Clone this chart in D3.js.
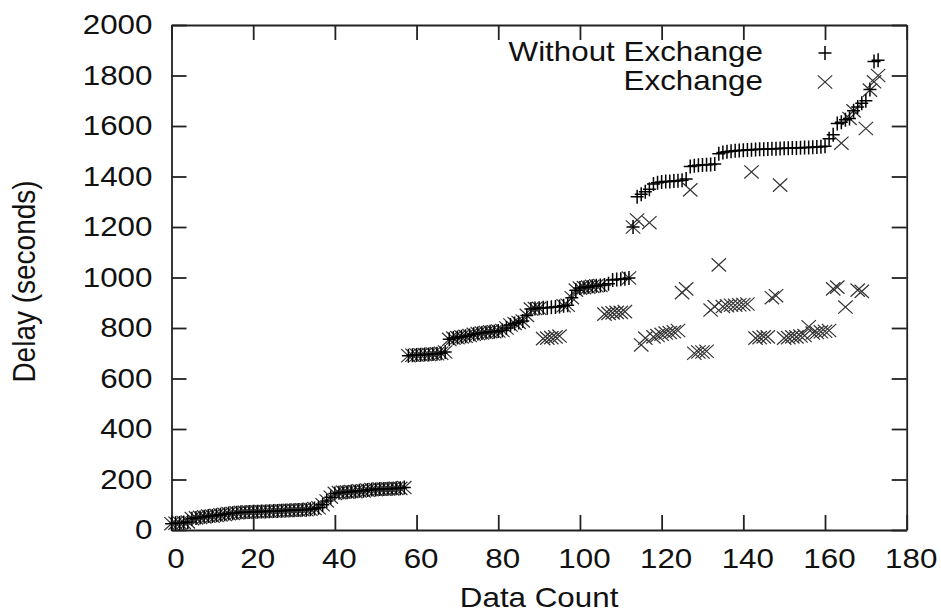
<!DOCTYPE html>
<html lang="en">
<head>
<meta charset="UTF-8"/>
<title>delay</title>
<script src="https://d3js.org/d3.v7.min.js"></script>
<style type="text/css">
  body { margin: 0; background: #fff; }
  text { font-family: "Liberation Sans", Arial, sans-serif; font-size: 28px; fill: #111; }
  .axis path, .axis line { fill: none; stroke: #222; stroke-width: 1.8px; }
</style>
</head>
<body>
<div id="chart"></div>
<script>

// delay per data point (x = data count 0..173)
var withoutExchange = [
  25,27,28,30,32, 45,48,50,52,55,55,58,60, 62,65,66,68,70,
  70,71,72,72,73,73,74,75,75,76, 77,78,78,79,80,80,82,85,88,
  100,115,130,145, 148,150,150,152,152,155,155, 158,160,160,162,162,163,163,165,165,168,
  690,692,693,694,695,695,697,698,700,705, 755,760,762,765,767,770,
  775,778,780,782,785,785,788,790,800, 812,818,822,828,850,
  875,877,878,880,880,882,883,885,888,890,920,950,
  958,960,962,965,967,968,970,975, 990,992,993,995,998,
  1200, 1320,1330,1340,1350, 1370,1375,1378,1380,1380,1382,1383,1385,1390,
  1440,1443,1445,1446,1447,1448,1450,
  1490,1495,1498,1500,1502,1503,1504,1505,1506,1507,1508,1508,1509,1510,
  1510,1511,1512,1512,1513,1513,1514,1515,1515,1516,1517,1518,1520,
  1550,1565,1610,1615,1625,1630,1660,1675,1690,1700,1745,1855,1860
]

var exchange = [
  25,27,28,30,32, 45,48,50,52,55,55,58,60, 62,65,66,68,70,
  70,71,72,72,73,73,74,75,75,76, 77,78,78,79,80,80,82,85,88,
  100,115,130,145, 148,150,150,152,152,155,155, 158,160,160,162,162,163,163,165,165,168,
  690,692,693,694,695,695,697,698,700,705, 755,760,762,765,767,770,
  775,778,780,782,785,785,788,790,800, 812,818,822,828,850,
  875,877,878, 758,760,762,765,768,
  888,890,920,950,958,960,962,965,967,968, 855,858,860,862,862,865,
  998,1200,
  1228,733,760,1217,765,770,775,780,782,785,790,940,955,1347,
  700,705,705,708,871,885,1050,885,888,890,890,892,893,895,1418,
  760,762,765,765,920,928,1366,760,762,765,765,768,770,805,
  780,782,785,787,790,955,962,1532,883,1630,1660,950,945,1590,1742,1775,1800
]

var xTicks = [0,20,40,60,80,100,120,140,160,180]
var yTicks = [0,200,400,600,800,1000,1200,1400,1600,1800,2000]
var seriesNames = ["Without Exchange", "Exchange"]

var width = 941,
    height = 613
var margin = {top: 25, right: 34.3, bottom: 83, left: 171.5}
var stretch = 1.12   // the original figure is a bit wider than tall

var svg = d3.select("#chart")
  .append("svg")
    .attr("width", width)
    .attr("height", height)

var x = d3.scaleLinear()
    .domain([0, 180])
    .range([margin.left, width - margin.right])

var y = d3.scaleLinear()
    .domain([0, 2000])
    .range([height - margin.bottom, margin.top])

// axes, ticks pointing inward on all four sides
svg.append("g").attr("class", "axis xaxis")
    .attr("transform", "translate(0," + y(0) + ")")
    .call(d3.axisBottom(x).tickValues(xTicks).tickSize(-15).tickSizeOuter(0).tickPadding(18))
svg.append("g").attr("class", "axis")
    .attr("transform", "translate(0," + y(2000) + ")")
    .call(d3.axisTop(x).tickValues(xTicks).tickSize(-15).tickSizeOuter(0).tickFormat(""))
svg.append("g").attr("class", "axis")
    .attr("transform", "translate(" + x(0) + ",0)")
    .call(d3.axisLeft(y).tickValues(yTicks).tickFormat(d3.format("d")).tickSize(-15).tickSizeOuter(0).tickPadding(19))
svg.append("g").attr("class", "axis")
    .attr("transform", "translate(" + x(180) + ",0)")
    .call(d3.axisRight(y).tickValues(yTicks).tickSize(-15).tickSizeOuter(0).tickFormat(""))

svg.selectAll(".axis text")
    .attr("font-family", null).attr("font-size", null)
    .style("font-size", "28px").style("fill", "#111")
svg.selectAll(".xaxis text").attr("x", 4)

// axis titles
svg.append("text")
    .attr("x", (x(0) + x(180)) / 2)
    .attr("y", 607)
    .attr("text-anchor", "middle")
    .text("Data Count")

svg.append("text")
    .attr("class", "ylabel")
    .attr("transform", "translate(35," + ((y(0) + y(2000)) / 2 + 4) + ") rotate(-90) scale(1," + stretch + ")")
    .attr("text-anchor", "middle")
    .text("Delay (seconds)")

var plusPath = "M-6.5,0H6.5M0,-7V7"
var crossPath = "M-7.2,-6.6L7.2,6.6M-7.2,6.6L7.2,-6.6"

// Exchange first, so the plus markers sit on top
svg.append("g").selectAll("path")
  .data(exchange)
  .enter()
  .append("path")
    .attr("transform", function(d, i) { return "translate(" + x(i) + "," + y(d) + ")" })
    .attr("d", crossPath)
    .attr("fill", "none")
    .attr("stroke", "#333")
    .attr("stroke-width", 1.2)

svg.append("g").selectAll("path")
  .data(withoutExchange)
  .enter()
  .append("path")
    .attr("transform", function(d, i) { return "translate(" + x(i) + "," + y(d) + ")" })
    .attr("d", plusPath)
    .attr("fill", "none")
    .attr("stroke", "#000")
    .attr("stroke-width", 1.5)

// legend, top right inside the frame
var legend = svg.append("g")
var legendPaths = [plusPath, crossPath]
seriesNames.forEach(function(name, i) {
  legend.append("text")
      .attr("x", 763)
      .attr("y", 61 + i * 29)
      .attr("text-anchor", "end")
      .text(name)
  legend.append("path")
      .attr("transform", "translate(825," + (53 + i * 29) + ")")
      .attr("d", legendPaths[i])
      .attr("fill", "none")
      .attr("stroke", i == 0 ? "#000" : "#333")
      .attr("stroke-width", i == 0 ? 1.5 : 1.2)
})

// stretch the horizontal texts sideways around their anchor point
svg.selectAll("text").filter(function() { return !d3.select(this).classed("ylabel") })
  .each(function() {
    var t = d3.select(this)
    var tx = +t.attr("x") || 0, ty = +t.attr("y") || 0
    t.attr("x", 0).attr("y", 0)
     .attr("transform", "translate(" + tx + "," + ty + ") scale(" + stretch + ",1)")
  })

</script>
</body>
</html>
